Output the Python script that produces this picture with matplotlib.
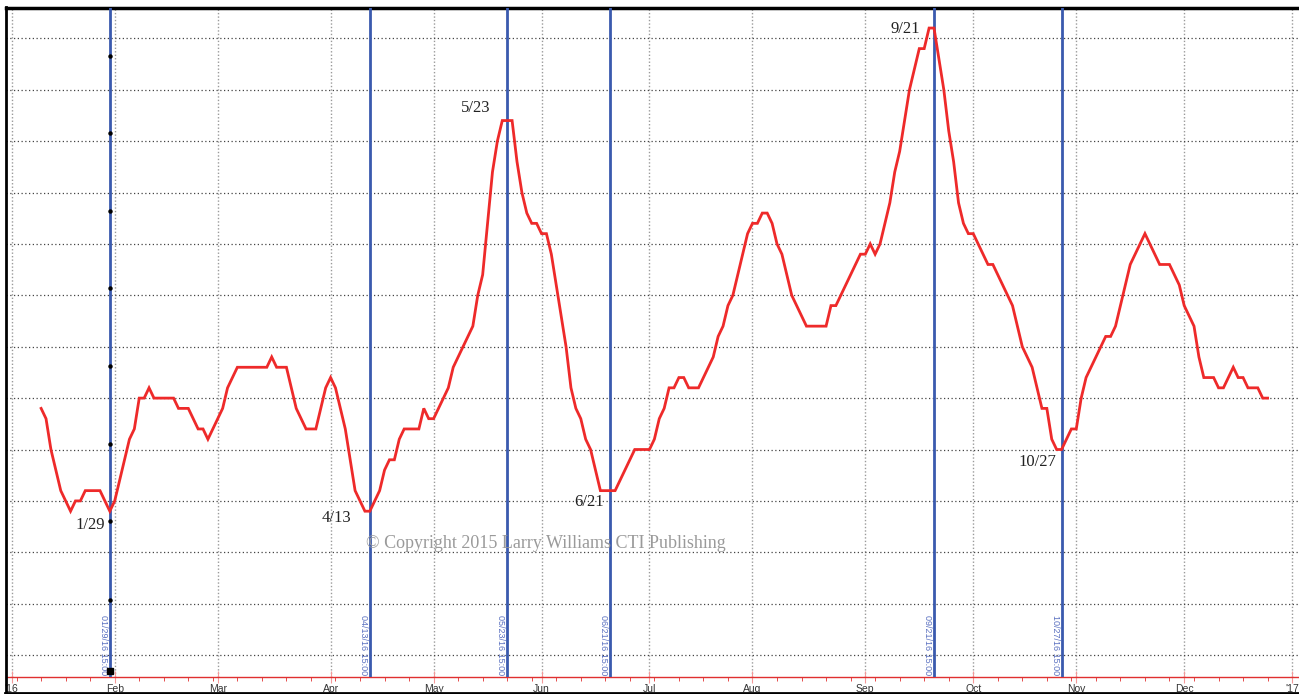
import numpy as np
import pandas as pd
import matplotlib
matplotlib.use("Agg")
from matplotlib import pyplot as plt
from matplotlib.lines import Line2D

# trading-day axis: one slot per weekday of 2016 (+ first day of 2017)
days = pd.bdate_range("2016-01-01", "2017-01-02")
first_day = "2016-01-11"

# seasonal line, one value per weekday from Jan 11 to Dec 26
values = [
    24, 23, 20, 18, 16, 15, 14, 15, 15, 16,
    16, 16, 16, 15, 14, 15, 17, 19, 21, 22,
    25, 25, 26, 25, 25, 25, 25, 25, 24, 24,
    24, 23, 22, 22, 21, 22, 23, 24, 26, 27,
    28, 28, 28, 28, 28, 28, 28, 29, 28, 28,
    28, 26, 24, 23, 22, 22, 22, 24, 26, 27,
    26, 24, 22, 19, 16, 15, 14, 14, 15, 16,
    18, 19, 19, 21, 22, 22, 22, 22, 24, 23,
    23, 24, 25, 26, 28, 29, 30, 31, 32, 35,
    37, 42, 47, 50, 52, 52, 52, 48, 45, 43,
    42, 42, 41, 41, 39, 36, 33, 30, 26, 24,
    23, 21, 20, 18, 16, 16, 16, 16, 17, 18,
    19, 20, 20, 20, 20, 21, 23, 24, 26, 26,
    27, 27, 26, 26, 26, 27, 28, 29, 31, 32,
    34, 35, 37, 39, 41, 42, 42, 43, 43, 42,
    40, 39, 37, 35, 34, 33, 32, 32, 32, 32,
    32, 34, 34, 35, 36, 37, 38, 39, 39, 40,
    39, 40, 42, 44, 47, 49, 52, 55, 57, 59,
    59, 61, 61, 58, 55, 51, 48, 44, 42, 41,
    41, 40, 39, 38, 38, 37, 36, 35, 34, 32,
    30, 29, 28, 26, 24, 24, 21, 20, 20, 21,
    22, 22, 25, 27, 28, 29, 30, 31, 31, 32,
    34, 36, 38, 39, 40, 41, 40, 39, 38, 38,
    38, 37, 36, 34, 33, 32, 29, 27, 27, 27,
    26, 26, 27, 28, 27, 27, 26, 26, 26, 25,
    25,
]

turn_dates = ["2016-01-29", "2016-04-13", "2016-05-23", "2016-06-21", "2016-09-21", "2016-10-27"]
turn_text = ["1/29", "4/13", "5/23", "6/21", "9/21", "10/27"]
text_offsets = [(-20, -14), (-33, -7), (-31, 13), (-21, -11), (-29, -1), (-24, -12)]

cursor_marks = [58.3, 50.8, 43.2, 35.7, 28.1, 20.5, 13.0, 5.4]
cursor_end = -1.5

month_labels = ["'16", "Feb", "Mar", "Apr", "May", "Jun", "Jul", "Aug", "Sep", "Oct", "Nov", "Dec", "'17"]

start = days.get_loc(pd.Timestamp(first_day))
x = np.arange(start, start + len(values))
month_pos = [int(np.argmax(days.month == m)) for m in range(1, 13)] + [len(days) - 1]
mondays = [i for i, d in enumerate(days) if d.weekday() == 0]

W, H = 1299, 694
fig = plt.figure(figsize=(W / 100, H / 100), dpi=100)
ax = fig.add_axes([6 / W, 1 - 677 / H, (W - 6) / W, (677 - 8) / H])

ax.plot(x, values, color="#ee2a2a", lw=2.0, zorder=4, solid_joinstyle="miter")

for d, txt, off in zip(turn_dates, turn_text, text_offsets):
    p = days.get_loc(pd.Timestamp(d))
    ax.axvline(p, color="#3a5aae", lw=2.0, zorder=3)
    ax.text(p - 1.3, 3.9, pd.Timestamp(d).strftime("%m/%d/%y") + " 15:00", rotation=270,
            color="#5a70c0", fontsize=6.5, ha="center", va="top", family="Liberation Sans")
    ax.annotate(txt, xy=(p, values[p - start]), xytext=off, textcoords="offset pixels",
                ha="center", va="center", fontsize=12, family="Liberation Serif", color="#222222")

p0 = days.get_loc(pd.Timestamp(turn_dates[0]))
ax.plot([p0] * len(cursor_marks), cursor_marks, "o", ms=2.2, color="black", zorder=5)
ax.plot([p0], [cursor_end], "s", ms=5, color="black", zorder=5)

ax.set_xlim(-1.16, 262.4)
ax.set_ylim(-2.13, 62.95)
ax.set_yticks(np.arange(0, 61, 5))
ax.set_yticklabels([])
ax.tick_params(axis="y", length=0)
ax.set_xticks(month_pos)
ax.set_xticklabels(month_labels, fontsize=7.5, color="#333333", family="Liberation Sans")
ax.set_xticks(mondays, minor=True)
ax.tick_params(axis="x", which="major", direction="inout", length=8, color="#f39a9a", pad=1)
ax.tick_params(axis="x", which="minor", direction="out", length=3, color="#e03030")

ax.grid(axis="y", which="major", linestyle=(0, (1, 2)), color="#444444", lw=0.9)
ax.grid(axis="x", which="major", linestyle=(0, (1, 1.5)), color="#9a9a9a", lw=1.0)

ax.spines["right"].set_visible(False)
ax.spines["top"].set_color("black")
ax.spines["top"].set_linewidth(2.5)
ax.spines["left"].set_visible(False)
ax.spines["bottom"].set_color("#e03030")
ax.spines["bottom"].set_linewidth(1.0)

# outer frame of the chart window
fig.add_artist(Line2D([6 / W, 6 / W], [1 - 693 / H, 1 - 7 / H], color="black", lw=2.0))
fig.add_artist(Line2D([5 / W, 1.0], [1 - 693 / H, 1 - 693 / H], color="black", lw=2.0))

fig.text(546 / W, 1 - 544 / H, "\u00a9 Copyright 2015 Larry Williams CTI Publishing",
         color="#9a9a9a", fontsize=13, family="Liberation Serif", ha="center", va="center")

fig.savefig("out.png", dpi=100)
